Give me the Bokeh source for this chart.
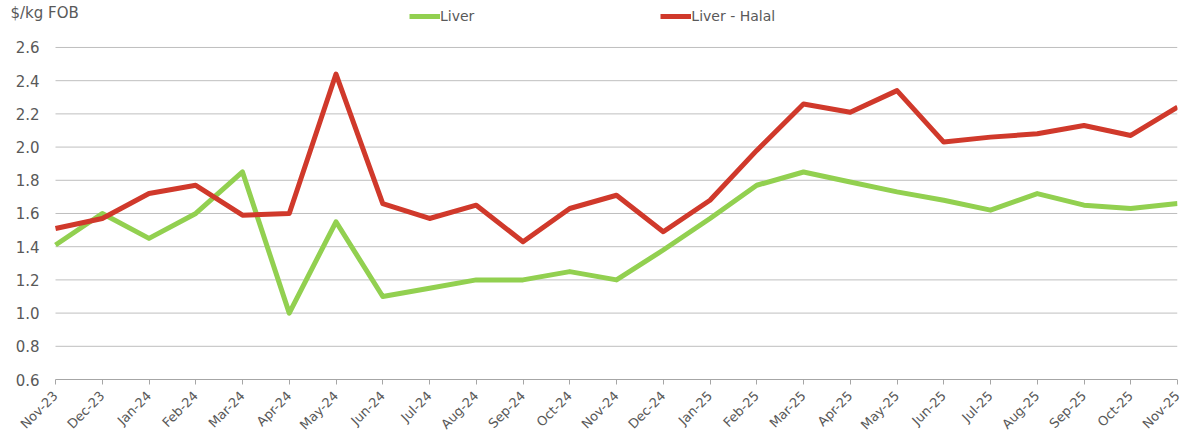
from bokeh.plotting import figure
from bokeh.models import Range1d, FixedTicker, Legend, LegendItem, Label, NumeralTickFormatter
from bokeh.embed import file_html
from bokeh.resources import INLINE
import math

months = ["Nov-23", "Dec-23", "Jan-24", "Feb-24", "Mar-24", "Apr-24", "May-24", "Jun-24",
          "Jul-24", "Aug-24", "Sep-24", "Oct-24", "Nov-24", "Dec-24", "Jan-25", "Feb-25",
          "Mar-25", "Apr-25", "May-25", "Jun-25", "Jul-25", "Aug-25", "Sep-25", "Oct-25", "Nov-25"]
liver = [1.41, 1.60, 1.45, 1.60, 1.85, 1.00, 1.55, 1.10, 1.15, 1.20, 1.20, 1.25, 1.20,
         1.38, 1.57, 1.77, 1.85, 1.79, 1.73, 1.68, 1.62, 1.72, 1.65, 1.63, 1.66]
liver_halal = [1.51, 1.57, 1.72, 1.77, 1.59, 1.60, 2.44, 1.66, 1.57, 1.65, 1.43, 1.63, 1.71,
               1.49, 1.68, 1.98, 2.26, 2.21, 2.34, 2.03, 2.06, 2.08, 2.13, 2.07, 2.24]
y_ticks = [0.6, 0.8, 1.0, 1.2, 1.4, 1.6, 1.8, 2.0, 2.2, 2.4, 2.6]

FONT = "DejaVu Sans"
TXT = "#595959"

x = list(range(len(months)))
n = len(months) - 1
X_START = -1.1765

# the frame covers the whole top-left area (plus a little below 0.6) so that the unit
# text, the legend and the y labels (all clipped to the frame) stay visible; the
# ranges are padded so that Nov-23 / 2.6 / 0.6 land where they sit in the reference
p = figure(width=1188, height=440, output_backend="svg", toolbar_location=None, title=None,
           x_range=Range1d(X_START, n), y_range=Range1d(0.5398, 2.883),
           min_border_left=0, min_border_right=11, min_border_top=0, min_border_bottom=51)
p.outline_line_color = None
p.background_fill_color = "white"

# horizontal gridlines (the lowest one doubles as the x axis line), data span only
grid_colors = ["#a6a6a6"] + ["#bfbfbf"] * (len(y_ticks) - 1)
p.segment(x0=[0] * len(y_ticks), x1=[n] * len(y_ticks), y0=y_ticks, y1=y_ticks,
          line_color=grid_colors, line_width=1)

r1 = p.line(x, liver, line_color="#92D050", line_width=5, line_join="round")
r2 = p.line(x, liver_halal, line_color="#D0392B", line_width=5, line_join="round")

p.xaxis.ticker = FixedTicker(ticks=x)
p.xaxis.major_label_overrides = {i: m for i, m in enumerate(months)}
p.xaxis.major_label_orientation = math.pi / 4
p.xaxis.major_label_text_font = FONT
p.xaxis.major_label_text_font_size = "13px"
p.xaxis.major_label_text_color = TXT
p.xaxis.axis_line_color = None
p.xaxis.major_tick_line_color = "#a6a6a6"
p.xaxis.major_tick_in = 10
p.xaxis.major_tick_out = -5
p.xaxis.minor_tick_in = 0
p.xaxis.minor_tick_out = -5
p.xaxis.minor_tick_line_color = None
p.xaxis.major_label_standoff = 4

p.yaxis.ticker = FixedTicker(ticks=y_ticks)
p.yaxis.formatter = NumeralTickFormatter(format="0.0")
p.yaxis.fixed_location = X_START
p.yaxis.major_label_text_font = FONT
p.yaxis.major_label_text_font_size = "15px"
p.yaxis.major_label_text_color = TXT
p.yaxis.axis_line_color = None
p.yaxis.major_tick_line_color = None
p.yaxis.minor_tick_line_color = None
p.yaxis.major_tick_in = 0
p.yaxis.major_tick_out = 0
p.yaxis.minor_tick_in = 0
p.yaxis.minor_tick_out = 0
p.yaxis.major_label_standoff = -39

p.xgrid.grid_line_color = None
p.ygrid.grid_line_color = None

unit = Label(x=10, y=368, x_units="screen", y_units="screen", text="$/kg FOB",
             text_font=FONT, text_font_size="15px", text_color=TXT)
p.add_layout(unit)

legend = Legend(items=[LegendItem(label="Liver", renderers=[r1]),
                       LegendItem(label="Liver - Halal", renderers=[r2])],
                orientation="horizontal", location=(409, 365),
                spacing=186, padding=0, margin=0, glyph_width=31, glyph_height=14,
                label_height=17, label_standoff=0, label_text_font=FONT,
                label_text_font_size="14px", label_text_color=TXT,
                border_line_color=None, background_fill_alpha=0)
p.add_layout(legend, "center")

open("out.html", "w").write(file_html(p, INLINE))
